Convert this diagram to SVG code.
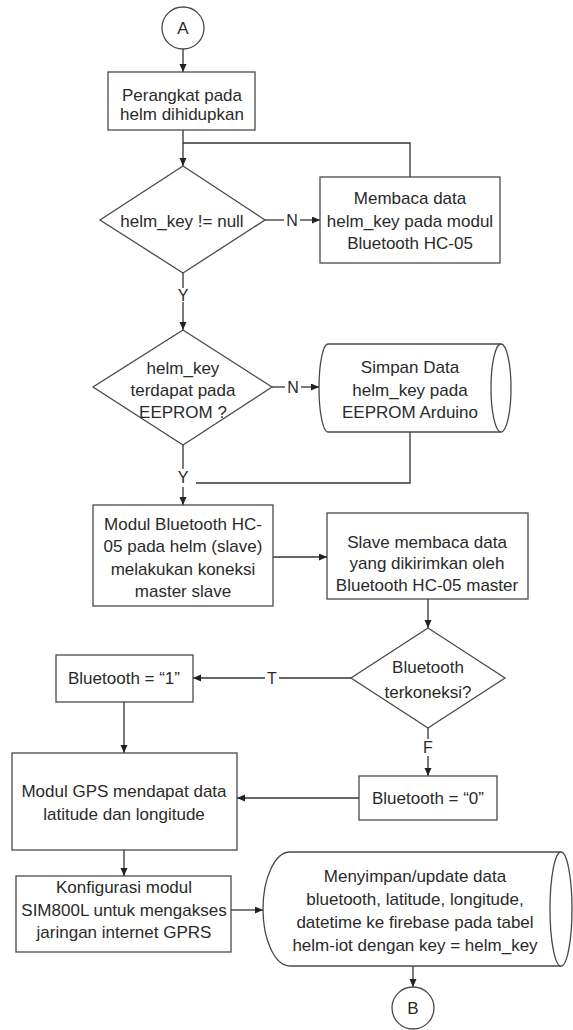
<svg xmlns="http://www.w3.org/2000/svg" width="573" height="1030" viewBox="0 0 573 1030">
<defs>
<style>
.s{fill:#fff;stroke:#4a4a4a;stroke-width:1.3}
.c{fill:none;stroke:#333;stroke-width:1.3}
text{font-family:"Liberation Sans",Arial,sans-serif;font-size:17px;fill:#2a2a2a;text-anchor:middle}
.l{font-size:16px}
</style>
<marker id="ar" markerUnits="userSpaceOnUse" markerWidth="9" markerHeight="8" refX="8" refY="3.5" orient="auto">
<path d="M0,0 L8,3.5 L0,7 Z" fill="#222"/>
</marker>
</defs>
<rect width="573" height="1030" fill="#fff"/>
<g id="connectors">
<path class="c" d="M183,49 V72" marker-end="url(#ar)"/>
<path class="c" d="M183,130 V166" marker-end="url(#ar)"/>
<path class="c" d="M410,177 V143 H183"/>
<path class="c" d="M265,220 H284"/>
<path class="c" d="M300,220 H320" marker-end="url(#ar)"/>
<text class="l" x="292" y="226">N</text>
<path class="c" d="M183,273 V288"/>
<path class="c" d="M183,302 V330" marker-end="url(#ar)"/>
<text class="l" x="183" y="301">Y</text>
<path class="c" d="M272,387 H285"/>
<path class="c" d="M301,387 H319" marker-end="url(#ar)"/>
<text class="l" x="293" y="393">N</text>
<path class="c" d="M410,432 V483 H196"/>
<path class="c" d="M183,445 V469"/>
<path class="c" d="M183,487 V505" marker-end="url(#ar)"/>
<text class="l" x="183" y="483">Y</text>
<path class="c" d="M273,557 H327" marker-end="url(#ar)"/>
<path class="c" d="M428,599 V628" marker-end="url(#ar)"/>
<path class="c" d="M351,678 H279"/>
<path class="c" d="M265,678 H193" marker-end="url(#ar)"/>
<text class="l" x="272" y="684">T</text>
<path class="c" d="M124,702 V753" marker-end="url(#ar)"/>
<path class="c" d="M428,728 V739"/>
<path class="c" d="M428,756 V776" marker-end="url(#ar)"/>
<text class="l" x="428" y="753">F</text>
<path class="c" d="M359,798 H237" marker-end="url(#ar)"/>
<path class="c" d="M124,850 V876" marker-end="url(#ar)"/>
<path class="c" d="M231,910 H263" marker-end="url(#ar)"/>
<path class="c" d="M413,966 V987" marker-end="url(#ar)"/>
</g>
<g id="startA">
<circle class="s" cx="183" cy="28" r="21"/>
<text x="183" y="34">A</text>
</g>
<g id="box1">
<rect class="s" x="108" y="72" width="147" height="58"/>
<text x="182" y="101">Perangkat pada</text>
<text x="182" y="120">helm dihidupkan</text>
</g>
<g id="dec1">
<path class="s" d="M183,166 L265,220 L183,273 L100,220 Z"/>
<text x="182" y="227">helm_key != null</text>
</g>
<g id="box2">
<rect class="s" x="320" y="177" width="180" height="86"/>
<text x="410" y="204">Membaca data</text>
<text x="410" y="227">helm_key pada modul</text>
<text x="410" y="249">Bluetooth HC-05</text>
</g>
<g id="dec2">
<path class="s" d="M183,330 L272,387 L183,445 L93,387 Z"/>
<text x="183" y="374">helm_key</text>
<text x="183" y="396">terdapat pada</text>
<text x="183" y="418">EEPROM ?</text>
</g>
<g id="store1">
<path class="s" d="M328,344 H501 A10,44 0 0 1 501,432 H328 A9,44 0 0 1 328,344 Z"/>
<path class="s" d="M501,344 A10,44 0 0 0 501,432" fill="none"/>
<text x="410" y="373">Simpan Data</text>
<text x="410" y="396">helm_key pada</text>
<text x="410" y="418">EEPROM Arduino</text>
</g>
<g id="box3">
<rect class="s" x="93" y="505" width="180" height="101"/>
<text x="183" y="530">Modul Bluetooth HC-</text>
<text x="183" y="552">05 pada helm (slave)</text>
<text x="183" y="575">melakukan koneksi</text>
<text x="183" y="597">master slave</text>
</g>
<g id="box4">
<rect class="s" x="327" y="513" width="201" height="86"/>
<text x="427" y="548">Slave membaca data</text>
<text x="427" y="569">yang dikirimkan oleh</text>
<text x="427" y="591">Bluetooth HC-05 master</text>
</g>
<g id="dec3">
<path class="s" d="M428,628 L505,678 L428,728 L351,678 Z"/>
<text x="428" y="673">Bluetooth</text>
<text x="428" y="698">terkoneksi?</text>
</g>
<g id="box5">
<rect class="s" x="56" y="655" width="137" height="47"/>
<text x="124" y="684">Bluetooth = “1”</text>
</g>
<g id="box7">
<rect class="s" x="359" y="776" width="138" height="44"/>
<text x="428" y="804">Bluetooth = “0”</text>
</g>
<g id="box6">
<rect class="s" x="12" y="753" width="225" height="97"/>
<text x="124" y="797">Modul GPS mendapat data</text>
<text x="124" y="820">latitude dan longitude</text>
</g>
<g id="box8">
<rect class="s" x="16" y="876" width="215" height="76"/>
<text x="124" y="893">Konfigurasi modul</text>
<text x="124" y="916">SIM800L untuk mengakses</text>
<text x="124" y="938">jaringan internet GPRS</text>
</g>
<g id="store2">
<path class="s" d="M290,852 H561 A11,57 0 0 1 561,966 H290 A27,57 0 0 1 290,852 Z"/>
<path class="s" d="M561,852 A11,57 0 0 0 561,966" fill="none"/>
<text x="415" y="882">Menyimpan/update data</text>
<text x="415" y="905">bluetooth, latitude, longitude,</text>
<text x="415" y="928">datetime ke firebase pada tabel</text>
<text x="415" y="951">helm-iot dengan key = helm_key</text>
</g>
<g id="endB">
<circle class="s" cx="413" cy="1008" r="21"/>
<text x="413" y="1014">B</text>
</g>
</svg>
